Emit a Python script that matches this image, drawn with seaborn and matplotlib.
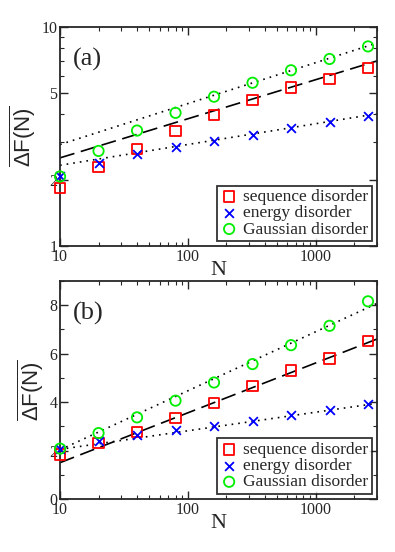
import numpy as np
import pandas as pd
import matplotlib
matplotlib.use("Agg")
import matplotlib.pyplot as plt
import seaborn as sns
from matplotlib.ticker import FixedLocator, NullFormatter

sns.set_style("ticks")
plt.rcParams['font.family'] = ['Liberation Serif', 'DejaVu Serif']
plt.rcParams['mathtext.fontset'] = 'custom'
plt.rcParams['mathtext.rm'] = 'Liberation Sans'
plt.rcParams['mathtext.it'] = 'Liberation Sans'

N = [10, 20, 40, 80, 160, 320, 640, 1280, 2560]
seq = [1.84, 2.3, 2.77, 3.35, 3.96, 4.66, 5.3, 5.8, 6.52]
energy = [2.08, 2.4, 2.64, 2.85, 3.03, 3.23, 3.45, 3.67, 3.92]
gauss = [2.08, 2.72, 3.37, 4.06, 4.81, 5.57, 6.35, 7.15, 8.16]

# fit lines: values at N=10 and N=3000
fit_N = [10, 3000]
fit_log_seq = [2.53, 7.0]
fit_log_energy = [2.34, 4.02]
fit_log_gauss = [2.91, 8.45]
fit_lin_seq = [1.5, 6.6]
fit_lin_energy = [2.05, 3.95]
fit_lin_gauss = [2.03, 8.07]

df = pd.DataFrame({'N': N * 3,
                   'F': seq + energy + gauss,
                   'kind': ['sequence disorder'] * 9 + ['energy disorder'] * 9 + ['Gaussian disorder'] * 9})

styles = {'sequence disorder': ('s', '#ff0000'),
          'energy disorder': ('x', '#0000ff'),
          'Gaussian disorder': ('o', '#00ee00')}

fig = plt.figure(figsize=(3.95, 5.52), dpi=100)
ax1 = fig.add_axes([0.152, 0.554, 0.802, 0.397])
ax2 = fig.add_axes([0.152, 0.096, 0.802, 0.395])


def draw(ax, fits):
    (fs, fe, fg) = fits
    ax.plot(fit_N, fs, color='black', ls=(0, (9, 4)), lw=1.2, zorder=1)
    ax.plot(fit_N, fe, color='black', ls=(0, (1, 3)), lw=1.2, zorder=1)
    ax.plot(fit_N, fg, color='black', ls=(0, (1, 3)), lw=1.2, zorder=1)
    for kind, (m, c) in styles.items():
        d = df[df['kind'] == kind]
        if m == 'x':
            sns.scatterplot(x='N', y='F', data=d, ax=ax, marker=m, color=c, s=40,
                            linewidth=1.3, label=kind, zorder=3, clip_on=False)
        else:
            sns.scatterplot(x='N', y='F', data=d, ax=ax, marker=m, facecolor='none',
                            edgecolor=c, s=55, linewidth=1.3, label=kind, zorder=3,
                            clip_on=False)
    ax.set_xscale('log')
    ax.set_xlim(10, 3000)
    ax.set_xticks([10, 100, 1000])
    ax.set_xticklabels(['10', '100', '1000'])
    ax.xaxis.set_minor_locator(FixedLocator([k * 10 ** e for e in range(1, 4) for k in range(2, 10)]))
    ax.xaxis.set_minor_formatter(NullFormatter())
    ax.set_xlabel('N', fontsize=16, labelpad=-3)
    ax.set_ylabel(r'$\overline{\mathrm{\Delta F(N)}}$', fontsize=16, labelpad=2)
    ax.tick_params(which='both', direction='in', top=True, right=True, labelsize=11.5, pad=2)
    ax.tick_params(which='major', length=6, width=1.0)
    ax.tick_params(which='minor', length=3, width=0.8)
    for s in ax.spines.values():
        s.set_linewidth(1.3)
    leg = ax.legend(loc='lower right', fontsize=12.5, frameon=True, fancybox=False,
                    handletextpad=0.3, borderpad=0.2, labelspacing=0.0,
                    handlelength=1.0, borderaxespad=0.3)
    leg.get_frame().set_edgecolor('black')
    leg.get_frame().set_linewidth(1.3)


draw(ax1, (fit_log_seq, fit_log_energy, fit_log_gauss))
ax1.set_yscale('log')
ax1.set_ylim(1, 10)
ax1.set_yticks([1, 2, 5, 10])
ax1.set_yticklabels(['1', '2', '5', '10'])
ax1.yaxis.set_minor_locator(FixedLocator([3, 4, 6, 7, 8, 9]))
ax1.yaxis.set_minor_formatter(NullFormatter())
ax1.text(0.04, 0.905, '(a)', transform=ax1.transAxes, fontsize=19, va='top')

draw(ax2, (fit_lin_seq, fit_lin_energy, fit_lin_gauss))
ax2.set_ylim(0, 9)
ax2.set_yticks([0, 2, 4, 6, 8])
ax2.yaxis.set_minor_locator(FixedLocator([1, 3, 5, 7, 9]))
ax2.text(0.04, 0.905, '(b)', transform=ax2.transAxes, fontsize=19, va='top')

fig.savefig('out.png', dpi=100)
